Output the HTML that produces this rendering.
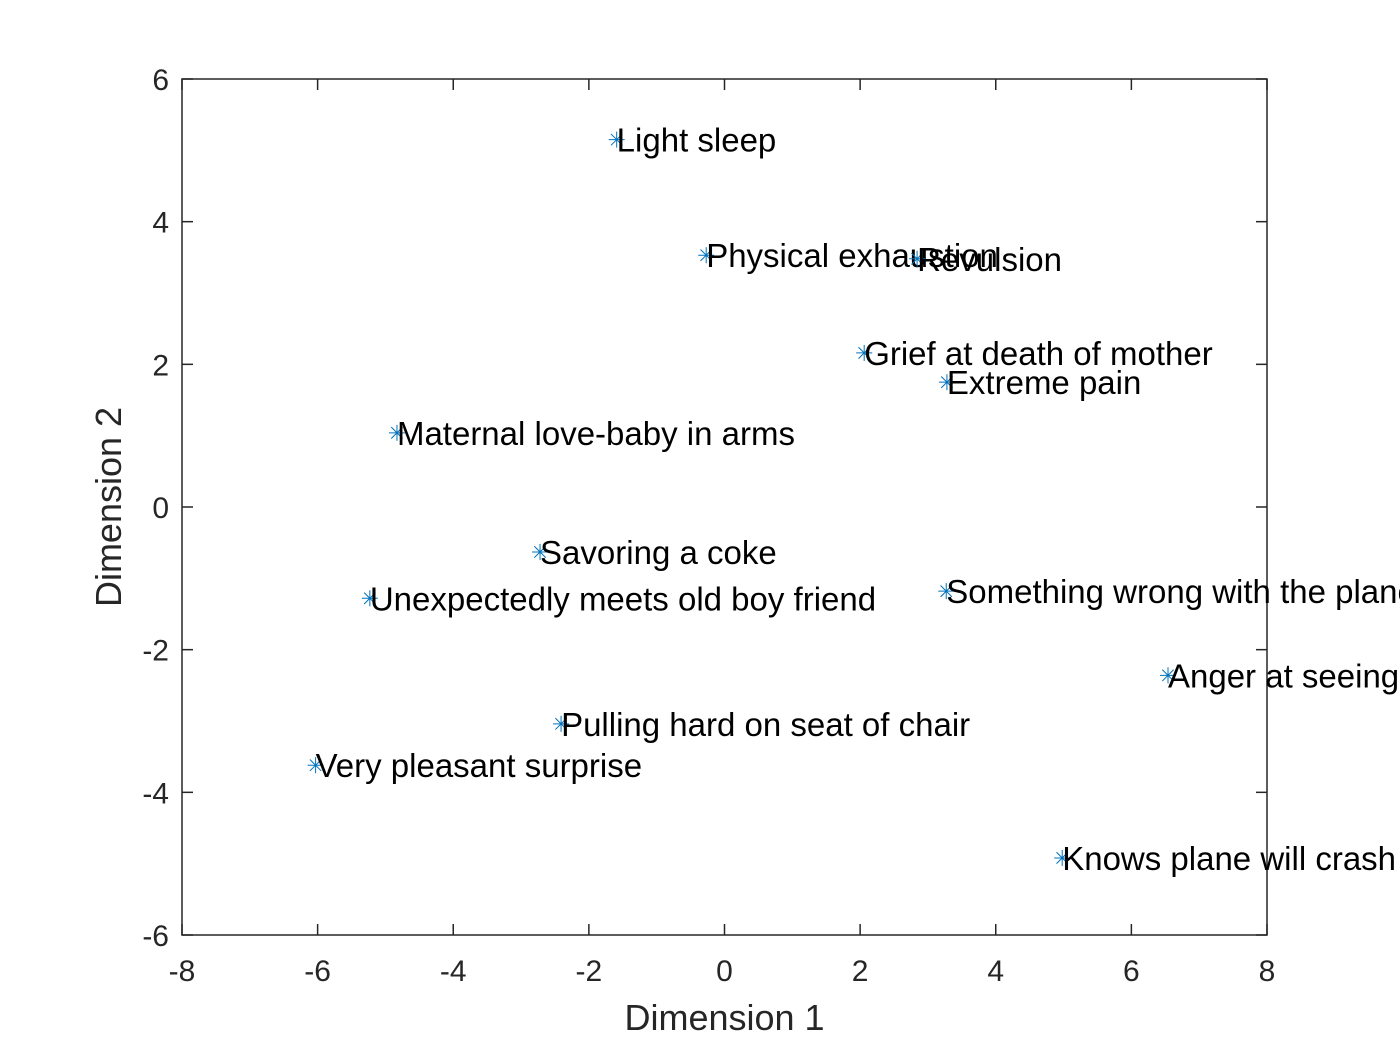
<!DOCTYPE html>
<html><head><meta charset="utf-8"><style>
html,body{margin:0;padding:0;background:#fff;overflow:hidden}
svg{display:block;font-family:"Liberation Sans",Arial,sans-serif}
</style></head><body>
<svg id="chart" width="1400" height="1050" xmlns="http://www.w3.org/2000/svg">
<rect x="0" y="0" width="1400" height="1050" fill="#fff"/>
<g id="axes"></g>
<g id="points"></g>
</svg>
<script>
const labels = ["Light sleep","Physical exhaustion","Revulsion","Grief at death of mother","Extreme pain","Maternal love-baby in arms","Savoring a coke","Unexpectedly meets old boy friend","Something wrong with the plane","Anger at seeing dog beaten","Pulling hard on seat of chair","Very pleasant surprise","Knows plane will crash"];
const dim1 = [-1.59,-0.27,2.84,2.06,3.28,-4.83,-2.72,-5.23,3.27,6.54,-2.41,-6.03,4.98];
const dim2 = [5.15,3.53,3.48,2.16,1.75,1.04,-0.63,-1.28,-1.18,-2.36,-3.04,-3.62,-4.92];
const xTicks = [-8,-6,-4,-2,0,2,4,6,8];
const yTicks = [-6,-4,-2,0,2,4,6];

const L=182,R=1267,T=79,B=935;
const xs=v=>L+(v+8)/16*(R-L);
const ys=v=>B-(v+6)/12*(B-T);
const NS="http://www.w3.org/2000/svg";
function mk(tag,attrs,parent){const e=document.createElementNS(NS,tag);for(const k in attrs)e.setAttribute(k,attrs[k]);parent.appendChild(e);return e;}
const ax=document.getElementById('axes'), pts=document.getElementById('points');
const box=mk('rect',{x:L,y:T,width:R-L,height:B-T,fill:'none',stroke:'#262626','stroke-width':1.5},ax);


xTicks.forEach(t=>{
  const x=xs(t);
  const a=mk('line',{x1:x,x2:x,y1:B,y2:B-11,stroke:'#262626','stroke-width':1.5},ax);
  
  
  const b=mk('line',{x1:x,x2:x,y1:T,y2:T+11,stroke:'#262626','stroke-width':1.5},ax);
  
  
  const tx=mk('text',{x:x,y:B+46,'text-anchor':'middle','font-size':30,fill:'#262626'},ax);
  tx.textContent=t;
  
  
});
yTicks.forEach(t=>{
  const y=ys(t);
  const a=mk('line',{x1:L,x2:L+11,y1:y,y2:y,stroke:'#262626','stroke-width':1.5},ax);
  
  
  const b=mk('line',{x1:R,x2:R-11,y1:y,y2:y,stroke:'#262626','stroke-width':1.5},ax);
  
  
  const tx=mk('text',{x:L-13,y:y+11,'text-anchor':'end','font-size':30,fill:'#262626'},ax);
  tx.textContent=t;
  
  
});
const xt=mk('text',{x:(L+R)/2,y:1030,'text-anchor':'middle','font-size':36,fill:'#262626'},ax);
xt.textContent='Dimension 1';


const yt=mk('text',{x:0,y:0,'text-anchor':'middle','font-size':36,fill:'#262626',transform:`translate(121,${(T+B)/2}) rotate(-90)`},ax);
yt.textContent='Dimension 2';


labels.forEach((lab,i)=>{
  const x=xs(dim1[i]), y=ys(dim2[i]);
  const g=mk('g',{},pts);
  
  
  const r=8,d=5.7;
  [[-r,0,r,0],[0,-r,0,r],[-d,-d,d,d],[-d,d,d,-d]].forEach(s=>mk('line',{x1:x+s[0],y1:y+s[1],x2:x+s[2],y2:y+s[3],stroke:'#0072BD','stroke-width':1},g));
  const tx=mk('text',{x:x,y:y+12,'font-size':33,fill:'#000'},pts);
  tx.textContent=lab;
  
  
});
</script>
</body></html>
